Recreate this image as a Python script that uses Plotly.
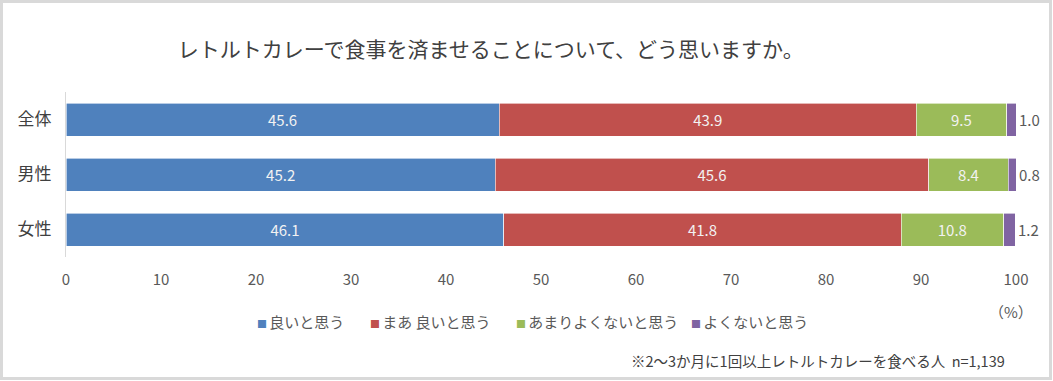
import plotly.graph_objects as go

categories = ["全体", "男性", "女性"]
series_names = ["良いと思う", "まあ良いと思う", "あまりよくないと思う", "よくないと思う"]
legend_labels = ["良いと思う", "まあ 良いと思う", "あまりよくないと思う", "よくないと思う"]
good = [45.6, 45.2, 46.1]
fairly_good = [43.9, 45.6, 41.8]
not_very_good = [9.5, 8.4, 10.8]
not_good = [1.0, 0.8, 1.2]
x_ticks = [0, 10, 20, 30, 40, 50, 60, 70, 80, 90, 100]

colors = ["#4f81bd", "#c0504d", "#9bbb59", "#8064a2"]
values = [good, fairly_good, not_very_good, not_good]

JP = "Noto Sans CJK JP, Noto Sans, sans-serif"
PLOT_L, PLOT_W = 66, 950  # plot-area pixel geometry


def px_to_paper(px):
    return (px - PLOT_L) / PLOT_W


fig = go.Figure()
for i, (name, vals) in enumerate(zip(series_names, values)):
    last = i == len(values) - 1
    fig.add_trace(go.Bar(
        y=categories, x=vals, name=name, orientation="h",
        marker=dict(color=colors[i], line=dict(color="white", width=0.6)),
        texttemplate="" if last else "%{x:.1f}",
        textposition="none" if last else "inside",
        insidetextanchor="middle",
        textfont=dict(family=JP, size=15, color="#f2f2f2"),
        showlegend=False,
        hoverinfo="skip",
    ))

# labels for the last (thin) segment, placed just past the stack end
totals = [round(a + b + c + d, 6) for a, b, c, d in zip(good, fairly_good, not_very_good, not_good)]
annotations = [
    dict(x=min(t, 100), y=cat, xref="x", yref="y", text=f"{v:.1f}", showarrow=False,
         xanchor="left", yanchor="middle", xshift=1,
         font=dict(family=JP, size=15, color="#595959"))
    for cat, t, v in zip(categories, totals, not_good)
]

# legend row (small coloured squares + labels)
legend_px = [255, 368, 514, 689]
for lab, col, px in zip(legend_labels, colors, legend_px):
    annotations.append(dict(
        text=f"<span style='color:{col};font-size:10px'>■ </span>{lab}",
        xref="paper", yref="paper", x=px_to_paper(px), y=-0.39,
        xanchor="left", yanchor="middle", showarrow=False,
        font=dict(family=JP, size=15, color="#595959")))

annotations += [
    dict(text="（%）", xref="paper", yref="paper", x=1.02, y=-0.33,
         xanchor="right", yanchor="middle", showarrow=False,
         font=dict(family=JP, size=15, color="#595959")),
    dict(text="※2～3か月に1回以上レトルトカレーを食べる人  n=1,139", xref="paper", yref="paper",
         x=0.99, y=-0.63, xanchor="right", yanchor="middle", showarrow=False,
         font=dict(family=JP, size=14.5, color="#404040")),
]

fig.update_layout(
    width=1053, height=381,
    barmode="stack", bargap=0.4,
    margin=dict(l=66, r=37, t=92, b=124, autoexpand=False),
    plot_bgcolor="white", paper_bgcolor="white",
    title=dict(text="レトルトカレーで食事を済ませることについて、どう思いますか。",
               x=0.466, xanchor="center", y=0.87, yanchor="middle",
               font=dict(family=JP, size=21, color="#404040")),
    xaxis=dict(range=[0, 100], tickvals=x_ticks, showgrid=False, zeroline=False,
               showline=False, ticks="", ticklabelstandoff=12, automargin=False,
               tickfont=dict(family=JP, size=15, color="#595959")),
    yaxis=dict(categoryorder="array", categoryarray=categories, autorange="reversed",
               showgrid=False, zeroline=False, showline=True, linecolor="#d9d9d9",
               linewidth=1, ticks="", ticklabelstandoff=10, automargin=False,
               tickfont=dict(family=JP, size=17, color="#404040")),
    showlegend=False,
    annotations=annotations,
    shapes=[
        dict(type="rect", xref="paper", yref="paper",
             x0=px_to_paper(1.5), x1=px_to_paper(1050.5),
             y0=(257 - 378.5) / 165, y1=(257 - 1.5) / 165,
             line=dict(color="#d9d9d9", width=3), fillcolor="rgba(0,0,0,0)", layer="below"),
    ],
)

fig.write_html("out.html", config={"displayModeBar": False},
               post_script="document.body.style.margin='0';")
